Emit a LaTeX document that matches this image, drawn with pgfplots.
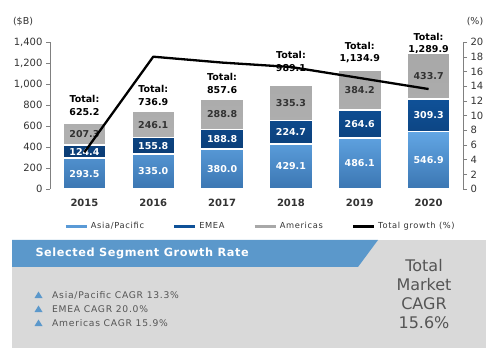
\documentclass[border=0pt]{standalone}
\usepackage{pgfplots}
\pgfplotsset{compat=1.18}
\usepackage{fontspec}
\setmainfont{DejaVu Sans}
\newfontfamily\spaced[LetterSpace=8]{DejaVu Sans}
\newfontfamily\spacedb[LetterSpace=5]{DejaVu Sans}
\definecolor{apTop}{HTML}{62A6E4}
\definecolor{apBot}{HTML}{3B76B2}
\definecolor{apLeg}{HTML}{5A9AD6}
\definecolor{emTop}{HTML}{0F5198}
\definecolor{emBot}{HTML}{0B3C74}
\definecolor{amTop}{HTML}{A8A8A8}
\definecolor{amBot}{HTML}{B0B0B0}
\definecolor{panelgray}{HTML}{D9D9D9}
\definecolor{banner}{HTML}{5B98CB}
\definecolor{txt}{HTML}{333333}
\definecolor{paneltxt}{HTML}{555555}
\tikzset{
  segw/.style={font=\bfseries\fontsize{9.5}{11}\selectfont, text=white},
  segd/.style={font=\bfseries\fontsize{9.5}{11}\selectfont, text=txt},
  tot/.style={font=\bfseries\fontsize{9.5}{12.5}\selectfont, align=center, text=black},
}
\begin{document}
\begin{tikzpicture}[x=1pt,y=1pt]
\useasboundingbox (0,0) rectangle (500,356);
% bottom panel
\fill[panelgray] (12,8) rectangle (486,116);
\fill[banner] (12,116) -- (378,116) -- (358,89) -- (12,89) -- cycle;
\node[anchor=west, white, font=\spacedb\bfseries\fontsize{11.3}{13}\selectfont] at (32,102.5) {Selected Segment Growth Rate};
\fill[banner] (34.5,58) -- (42.5,58) -- (38.5,64.5) -- cycle;
\fill[banner] (34.5,44) -- (42.5,44) -- (38.5,50.5) -- cycle;
\fill[banner] (34.5,30) -- (42.5,30) -- (38.5,36.5) -- cycle;
\node[anchor=west, text=paneltxt, font=\spaced\fontsize{9.2}{11}\selectfont, inner sep=0pt] at (52,61) {Asia/Pacific CAGR 13.3\%};
\node[anchor=west, text=paneltxt, font=\spaced\fontsize{9.2}{11}\selectfont, inner sep=0pt] at (52,47) {EMEA CAGR 20.0\%};
\node[anchor=west, text=paneltxt, font=\spaced\fontsize{9.2}{11}\selectfont, inner sep=0pt] at (52,33) {Americas CAGR 15.9\%};
\node[text=paneltxt, font=\fontsize{16}{19}\selectfont, align=center, anchor=north] at (424,100) {Total\\Market\\CAGR\\15.6\%};
% axis unit labels
\node[text=txt, font=\fontsize{9.5}{11}\selectfont] at (23,334) {(\$B)};
\node[text=txt, font=\fontsize{9.5}{11}\selectfont] at (475,334) {(\%)};

\begin{axis}[
  at={(50pt,167pt)}, anchor=south west,
  width=413pt, height=147pt, scale only axis,
  xmin=-0.5, xmax=5.5, ymin=0, ymax=1400,
  ybar stacked, bar width=43pt,
  axis y line*=left, axis x line*=bottom,
  x axis line style={draw=none},
  xtick={0,1,2,3,4,5},
  xticklabels={2015,2016,2017,2018,2019,2020},
  xtick style={draw=none},
  xticklabel style={font=\bfseries\fontsize{10}{12}\selectfont, text=txt, yshift=-3pt},
  ytick={0,200,...,1400},
  yticklabel style={font=\fontsize{10}{12}\selectfont, text=txt},
  y axis line style={draw=gray},
  ytick style={draw=gray},
  tick align=outside, major tick length=4pt,
  /pgf/number format/assume math mode=true,
  /pgf/number format/1000 sep={,},
  clip=false,
]
\addplot[top color=apTop, bottom color=apBot, draw=white, line width=1.5pt]
  coordinates {(0,293.5) (1,335.0) (2,380.0) (3,429.1) (4,486.1) (5,546.9)};
\addplot[top color=emTop, bottom color=emBot, draw=white, line width=1.5pt]
  coordinates {(0,124.4) (1,155.8) (2,188.8) (3,224.7) (4,264.6) (5,309.3)};
\addplot[top color=amTop, bottom color=amBot, draw=white, line width=1.5pt]
  coordinates {(0,207.3) (1,246.1) (2,288.8) (3,335.3) (4,384.2) (5,433.7)};
\node[tot] at (axis cs:0,795) {Total:\\625.2};
\node[tot] at (axis cs:1,890) {Total:\\736.9};
\node[tot] at (axis cs:2,1005) {Total:\\857.6};
\node[tot] at (axis cs:3,1214) {Total:\\989.1};
\node[tot] at (axis cs:4,1300) {Total:\\1,134.9};
\node[tot] at (axis cs:5,1386) {Total:\\1,289.9};
\end{axis}

\begin{axis}[
  at={(50pt,167pt)}, anchor=south west,
  width=413pt, height=147pt, scale only axis,
  xmin=-0.5, xmax=5.5, ymin=0, ymax=20,
  axis y line*=right, axis x line=none,
  ytick={0,2,...,20},
  yticklabel style={font=\fontsize{10}{12}\selectfont, text=txt},
  y axis line style={draw=gray},
  ytick style={draw=gray},
  tick align=outside, major tick length=4pt,
  /pgf/number format/assume math mode=true,
  clip=false,
  legend columns=4,
  legend image code/.code={\draw[#1] (0pt,0pt) -- (21pt,0pt);},
  legend style={at={(0.035,-0.255)}, anchor=west, draw=none, fill=none,
    inner sep=0pt, font=\spaced\fontsize{8.3}{10}\selectfont, text=txt,
    /tikz/every even column/.append style={column sep=27pt},
    /tikz/every odd column/.append style={column sep=1pt}},
]
\addlegendimage{line width=2.2pt, color=apLeg}
\addlegendentry{Asia/Pacific}
\addlegendimage{line width=2.2pt, color=emTop}
\addlegendentry{EMEA}
\addlegendimage{line width=2.2pt, color=amTop}
\addlegendentry{Americas}
\addlegendimage{line width=2.2pt, color=black}
\addlegendentry{Total growth (\%)}
% segment labels (left-axis values divided by 70 to match this axis)
\node[segw] at (axis cs:0,2.0964) {293.5};
\node[segw] at (axis cs:1,2.3929) {335.0};
\node[segw] at (axis cs:2,2.7143) {380.0};
\node[segw] at (axis cs:3,3.0650) {429.1};
\node[segw] at (axis cs:4,3.4721) {486.1};
\node[segw] at (axis cs:5,3.9064) {546.9};
\node[segw] at (axis cs:0,5.0814) {124.4};
\node[segw] at (axis cs:1,5.8986) {155.8};
\node[segw] at (axis cs:2,6.7771) {188.8};
\node[segw] at (axis cs:3,7.7350) {224.7};
\node[segw] at (axis cs:4,8.8343) {264.6};
\node[segw] at (axis cs:5,10.0221) {309.3};
\node[segd] at (axis cs:0,7.4507) {207.3};
\node[segd] at (axis cs:1,8.7693) {246.1};
\node[segd] at (axis cs:2,10.1886) {288.8};
\node[segd] at (axis cs:3,11.7350) {335.3};
\node[segd] at (axis cs:4,13.4686) {384.2};
\node[segd] at (axis cs:5,15.3293) {433.7};
\addplot[black, line width=2.3pt, line join=round, mark=none]
  coordinates {(0,5.0) (1,18.0) (2,17.2) (3,16.6) (4,15.1) (5,13.6)};
\end{axis}
\end{tikzpicture}
\end{document}
